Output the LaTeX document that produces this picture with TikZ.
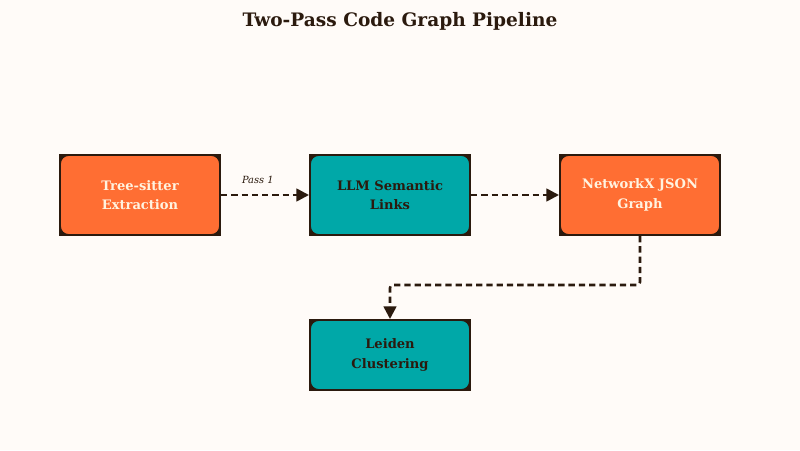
\documentclass[tikz,border=0pt]{standalone}
\usepackage{fontspec}
\setmainfont{DejaVu Serif}
\usepackage{xcolor}
\usepackage{tikz}
\usetikzlibrary{positioning, arrows.meta, backgrounds}
\definecolor{bgPaper}{HTML}{FFFBF8}
\definecolor{accOrange}{HTML}{FF6E33}
\definecolor{accTeal}{HTML}{00A8A8}
\definecolor{inkDark}{HTML}{2B1A0E}
\definecolor{creamText}{HTML}{FFF3E0}

\tikzset{
  stage/.style={rectangle, rounded corners=6pt, draw=inkDark, line width=1.4pt,
    minimum width=4cm, minimum height=2cm, align=center, inner sep=2pt,
    font=\fontsize{9.3}{14}\selectfont\bfseries},
  hotstage/.style={stage, fill=accOrange, text=creamText},
  coolstage/.style={stage, fill=accTeal, text=inkDark},
  flow/.style={-{Triangle[length=9pt, width=9pt]}, dash pattern=on 4.5pt off 2.8pt,
    line width=1.8pt, inkDark}
}

\begin{document}
\begin{tikzpicture}
  \useasboundingbox (0,0) rectangle (20,11.25);

  \node[font=\fontsize{13.2}{15}\selectfont\bfseries, text=inkDark] (title) at (10,10.72) {Two-Pass Code Graph Pipeline};

  \node[hotstage] (parse) at (3.5,6.375) {Tree-sitter\\Extraction};
  \node[coolstage] (links) at (9.75,6.375) {LLM Semantic\\Links};
  \node[hotstage] (graph) at (16,6.375) {NetworkX JSON\\Graph};
  \node[coolstage, minimum height=1.75cm] (leiden) at (9.75,2.375) {Leiden\\Clustering};

  % paper, then square dark corners behind the rounded fills
  \begin{scope}[on background layer]
    \fill[bgPaper] (0,0) rectangle (20,11.25);
    \foreach \n in {parse, links, graph, leiden}
      \fill[inkDark] (\n.north west) rectangle (\n.south east);
  \end{scope}

  \draw[flow] (parse) -- node[above=4pt, font=\fontsize{7}{8}\selectfont\itshape, text=inkDark, xshift=-0.18cm] {Pass 1} (links);
  \draw[flow] (links) -- (graph);
  \coordinate (bend) at (graph.south |- 0,4.125);
  \draw[flow, rounded corners=2pt] (graph.south) -- (bend) -| (leiden.north);
\end{tikzpicture}
\end{document}
